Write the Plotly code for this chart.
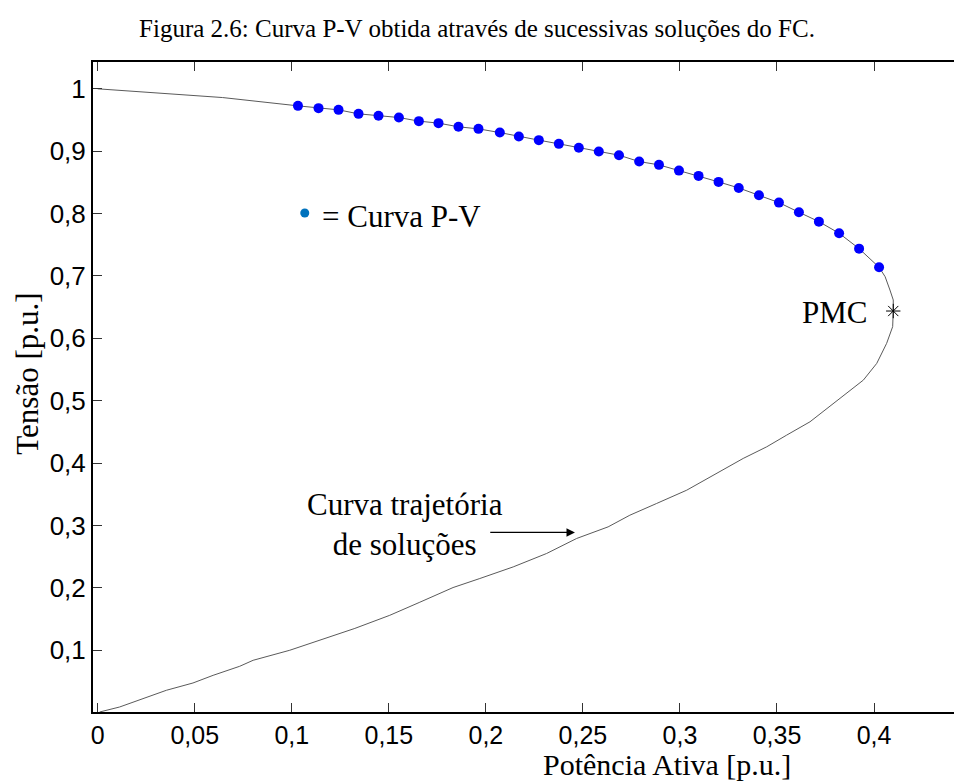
import plotly.graph_objects as go

# Upper branch before the sampled P-V points
start_p = [0.0, 0.0644]
start_v = [1.0, 0.986]

# Points of the P-V curve obtained from successive power-flow solutions
pv_p = [0.1032, 0.1138, 0.1241, 0.1344, 0.1447, 0.1552, 0.1655, 0.1756, 0.1859, 0.1962,
        0.2072, 0.2170, 0.2273, 0.2376, 0.2479, 0.2582, 0.2686, 0.2790, 0.2892, 0.2995,
        0.3096, 0.3199, 0.3303, 0.3407, 0.3510, 0.3613, 0.3716, 0.3820, 0.3923, 0.4026]
pv_v = [0.9727, 0.9690, 0.9663, 0.9599, 0.9567, 0.9540, 0.9482, 0.9450, 0.9391, 0.9358,
        0.9299, 0.9235, 0.9177, 0.9118, 0.9054, 0.8994, 0.8936, 0.8834, 0.8781, 0.8689,
        0.8604, 0.8508, 0.8411, 0.8295, 0.8176, 0.8022, 0.7871, 0.7685, 0.7438, 0.7139]

# Nose of the curve approaching the maximum loading point
nose_p = [0.4057, 0.4082, 0.4099]
nose_v = [0.6989, 0.6775, 0.6615]

# Maximum loading point (PMC)
pmc_p = [0.4099]
pmc_v = [0.6438]

# Lower branch of the solution trajectory
lower_p = [0.4096, 0.4065, 0.4014, 0.3945, 0.3859, 0.3773, 0.3670, 0.3550, 0.3447, 0.3326,
           0.3189, 0.3035, 0.2880, 0.2742, 0.2630, 0.2468, 0.2313, 0.2141, 0.1969, 0.1831,
           0.1660, 0.1505, 0.1325, 0.1144, 0.0990, 0.0801, 0.0732, 0.0595, 0.0491, 0.0354,
           0.0216, 0.0113, 0.0010]
lower_v = [0.6187, 0.5920, 0.5599, 0.5331, 0.5118, 0.4903, 0.4662, 0.4449, 0.4261, 0.4075,
           0.3834, 0.3566, 0.3353, 0.3165, 0.2978, 0.2792, 0.2551, 0.2336, 0.2150, 0.2005,
           0.1770, 0.1560, 0.1350, 0.1160, 0.1000, 0.0839, 0.0743, 0.0598, 0.0475, 0.0358,
           0.0209, 0.0090, 0.0010]

x_ticks = [0, 0.05, 0.1, 0.15, 0.2, 0.25, 0.3, 0.35, 0.4]
y_ticks = [0.1, 0.2, 0.3, 0.4, 0.5, 0.6, 0.7, 0.8, 0.9, 1.0]

# Legend marker position and text
key_p, key_v = 0.1067, 0.801
key_text = "= Curva P-V"

serif = "Liberation Serif, Times New Roman, serif"
sans = "Liberation Sans, Arial, sans-serif"

traj_p = start_p + pv_p + nose_p + pmc_p + lower_p
traj_v = start_v + pv_v + nose_v + pmc_v + lower_v

fig = go.Figure()
fig.add_trace(go.Scatter(x=traj_p, y=traj_v, mode="lines",
                         line=dict(color="#5a5a5a", width=1), hoverinfo="skip"))
fig.add_trace(go.Scatter(x=pv_p, y=pv_v, mode="markers",
                         marker=dict(color="#0000ff", size=10, line=dict(width=0))))
fig.add_trace(go.Scatter(x=pmc_p, y=pmc_v, mode="markers",
                         marker=dict(symbol="asterisk-open", color="black", size=12,
                                     line=dict(color="black", width=1))))
fig.add_trace(go.Scatter(x=[key_p], y=[key_v], mode="markers",
                         marker=dict(color="#0072bd", size=9, line=dict(width=0))))

fig.add_annotation(x=0.1144, y=0.795, xref="x", yref="y", text=key_text, showarrow=False,
                   xanchor="left", yanchor="middle", font=dict(family=serif, size=31, color="black"))
fig.add_annotation(x=pmc_p[0] - 0.0125, y=pmc_v[0] - 0.003, xref="x", yref="y", text="PMC",
                   showarrow=False, xanchor="right", yanchor="middle",
                   font=dict(family=serif, size=31, color="black"))
fig.add_annotation(x=0.1585, y=0.301, xref="x", yref="y", text="Curva trajetória<br>de soluções",
                   showarrow=False, xanchor="center", yanchor="middle", align="center",
                   font=dict(family=serif, size=31, color="black"))
fig.add_annotation(x=0.2459, y=0.2888, ax=0.2015, ay=0.2888, xref="x", yref="y",
                   axref="x", ayref="y", text="", showarrow=True,
                   arrowhead=2, arrowsize=1.3, arrowwidth=1.3, arrowcolor="black")

# Axis titles
fig.add_annotation(x=0.6667, y=-0.0815, xref="paper", yref="paper", text="Potência Ativa [p.u.]",
                   showarrow=False, xanchor="center", yanchor="middle",
                   font=dict(family=serif, size=30, color="black"))
fig.add_annotation(x=-0.077, y=0.52, xref="paper", yref="paper", text="Tensão [p.u.]",
                   showarrow=False, textangle=-90, xanchor="center", yanchor="middle",
                   font=dict(family=serif, size=31, color="black"))

fig.update_layout(
    width=954, height=784,
    margin=dict(l=93, r=0, t=62, b=72),
    paper_bgcolor="white", plot_bgcolor="white",
    showlegend=False,
    separators=",.",
    title=dict(text="Figura 2.6: Curva P-V obtida através de sucessivas soluções do FC.",
               x=0.5, xanchor="center", y=1 - 28 / 784, yanchor="middle", yref="container",
               font=dict(family=serif, size=25, color="black")),
    xaxis=dict(range=[-0.0024, 0.4412], tickvals=x_ticks, ticks="inside", ticklen=9,
               tickwidth=1, tickcolor="#333", showline=True, linecolor="black", linewidth=2,
               mirror="ticks", showgrid=False, zeroline=False,
               tickfont=dict(family=sans, size=25, color="black")),
    yaxis=dict(range=[0.001, 1.043], tickvals=y_ticks, ticks="inside", ticklen=9,
               tickwidth=1, tickcolor="#333", showline=True, linecolor="black", linewidth=2,
               mirror=False, showgrid=False, zeroline=False,
               tickfont=dict(family=sans, size=26, color="black")),
)

fig.write_html("out.html")
